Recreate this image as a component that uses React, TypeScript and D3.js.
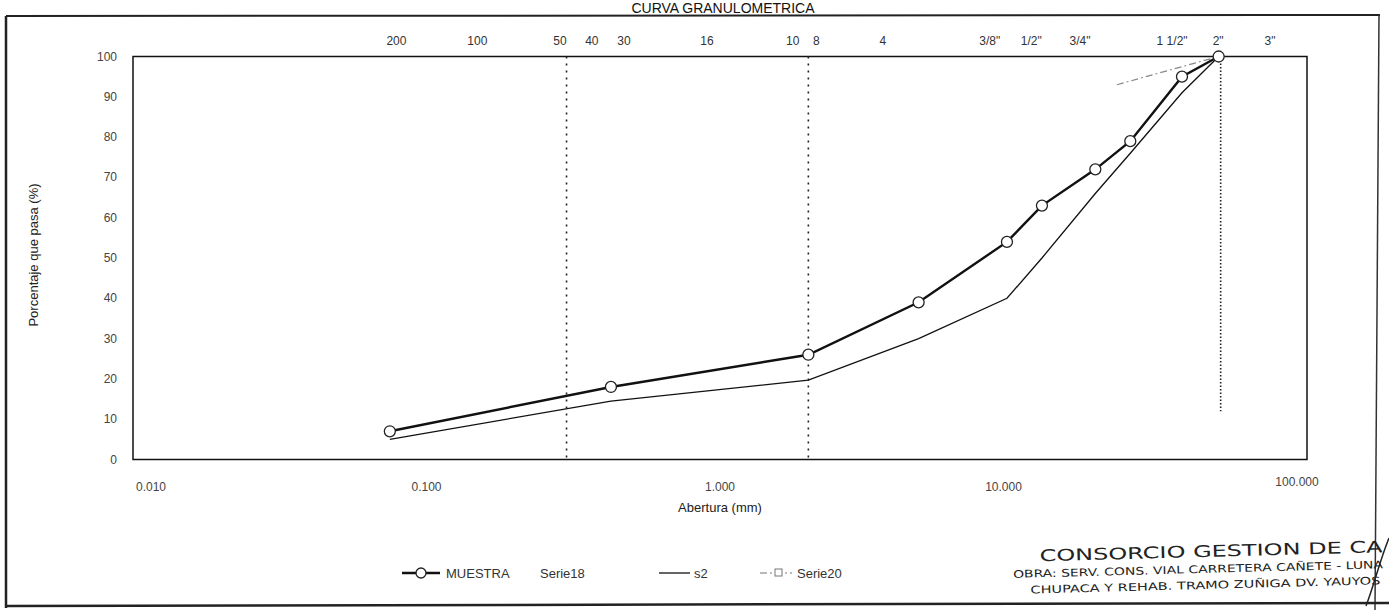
import React from "react";
import * as d3 from "d3";

// ---- data ----
const sievesMm = [0.075, 0.425, 2.0, 4.75, 9.5, 12.5, 19.0, 25.0, 37.5, 50.0];
const muestra = [7, 18, 26, 39, 54, 63, 72, 79, 95, 100];
const s2Values = [5, 14.5, 19.7, 30, 40, 50, 66, 76, 91, 100];
const serie20Mm = [22.5, 50.0];
const serie20Values = [93, 100];

const xTicks = [0.01, 0.1, 1, 10, 100];
const yTicks = [0, 10, 20, 30, 40, 50, 60, 70, 80, 90, 100];

// sieve names shown above the plot and where (mm) they sit in the original
const sieveNames = ["200", "100", "50", "40", "30", "16", "10", "8", "4", "3/8\"", "1/2\"", "3/4\"", "1 1/2\"", "2\"", "3\""];
const sieveNameAt = [0.079, 0.149, 0.285, 0.366, 0.471, 0.903, 1.77, 2.13, 3.59, 8.3, 11.5, 16.85, 34.7, 49.8, 74.8];

// dotted reference sieves: No.50, No.10, 2"
const refSieves = [0.3, 2.0, 50.8];
const refSieveLow = [0, 0, 12];

const W = 1389;
const H = 610;
const M = { left: 133, right: 1307, top: 56.5, bottom: 459.5 };

const FONT = "'Liberation Sans', Arial, sans-serif";

export default function App() {
  const x = d3.scaleLog().domain([0.01, 100]).range([M.left, M.right]);
  const y = d3.scaleLinear().domain([0, 100]).range([M.bottom, M.top]);
  const fmt = d3.format(".3f");

  const pts = sievesMm.map((d, i) => [d, muestra[i]] as [number, number]);
  const pts2 = sievesMm.map((d, i) => [d, s2Values[i]] as [number, number]);
  const pts3 = serie20Mm.map((d, i) => [d, serie20Values[i]] as [number, number]);
  const line = d3
    .line<[number, number]>()
    .x((d) => x(d[0]))
    .y((d) => y(d[1]));

  return (
    <svg
      width={W}
      height={H}
      viewBox={`0 0 ${W} ${H}`}
      style={{ position: "absolute", left: 0, top: 0, background: "#fff" }}
      fontFamily={FONT}
    >
      <rect x={0} y={0} width={W} height={H} fill="#fff" />
      {/* title */}
      <text x={723} y={13} textAnchor="middle" fontSize={14} fill="#111">
        CURVA GRANULOMETRICA
      </text>

      {/* outer frame */}
      <line x1={6} y1={16} x2={1380} y2={15} stroke="#222" strokeWidth={2} />
      <line x1={6} y1={16} x2={6} y2={608} stroke="#222" strokeWidth={2.5} />
      <line x1={1379} y1={15} x2={1375} y2={610} stroke="#333" strokeWidth={1.5} />
      <line x1={6} y1={606} x2={1389} y2={603} stroke="#222" strokeWidth={2.5} />

      {/* plot area */}
      <rect
        x={M.left}
        y={M.top}
        width={M.right - M.left}
        height={M.bottom - M.top}
        fill="none"
        stroke="#111"
        strokeWidth={1.5}
      />

      {/* dotted reference sieve lines */}
      {refSieves.map((s, i) => (
        <line
          key={"r" + i}
          x1={x(s)}
          x2={x(s)}
          y1={y(100)}
          y2={y(refSieveLow[i])}
          stroke="#222"
          strokeWidth={1.6}
          strokeDasharray={i === 2 ? "1.5,2" : "2,5"}
        />
      ))}

      {/* sieve names on top */}
      {sieveNames.map((n, i) => (
        <text key={"s" + i} x={x(sieveNameAt[i])} y={45} textAnchor="middle" fontSize={12} fill="#333">
          {n}
        </text>
      ))}

      {/* y axis ticks */}
      {yTicks.map((t) => (
        <text key={"y" + t} x={117} y={y(t) + 4} textAnchor="end" fontSize={12} fill="#444">
          {t}
        </text>
      ))}
      <text
        transform={`translate(38,255) rotate(-90)`}
        textAnchor="middle"
        fontSize={13}
        fill="#222"
      >
        Porcentaje que pasa (%)
      </text>

      {/* x axis ticks */}
      {xTicks.map((t, i) => (
        <text
          key={"x" + t}
          x={i === 0 ? x(t) + 18 : x(t) - (i >= 3 ? 10 : 0)}
          y={i === 4 ? 486 : 491}
          textAnchor="middle"
          fontSize={12}
          fill="#444"
        >
          {fmt(t)}
        </text>
      ))}
      <text x={720} y={512} textAnchor="middle" fontSize={13} fill="#222">
        Abertura (mm)
      </text>

      {/* Serie20 */}
      <path d={line(pts3) || ""} fill="none" stroke="#888" strokeWidth={1.2} strokeDasharray="7,3,2,3" />

      {/* s2 */}
      <path d={line(pts2) || ""} fill="none" stroke="#111" strokeWidth={1.3} />

      {/* MUESTRA */}
      <path d={line(pts) || ""} fill="none" stroke="#111" strokeWidth={2.4} />
      {pts.map((p, i) => (
        <circle key={"c" + i} cx={x(p[0])} cy={y(p[1])} r={5.5} fill="#fff" stroke="#222" strokeWidth={1.3} />
      ))}

      {/* legend */}
      <g fontSize={13} fill="#333">
        <line x1={402} x2={440} y1={573} y2={573} stroke="#111" strokeWidth={2.4} />
        <circle cx={421} cy={573} r={5} fill="#fff" stroke="#222" strokeWidth={1.3} />
        <text x={446} y={578}>MUESTRA</text>
        <text x={540} y={578}>Serie18</text>
        <line x1={659} x2={690} y1={573} y2={573} stroke="#111" strokeWidth={1.3} />
        <text x={694} y={578}>s2</text>
        <line x1={760} x2={792} y1={573} y2={573} stroke="#777" strokeWidth={1.2} strokeDasharray="7,3,2,3" />
        <rect x={775} y={569} width={7} height={7} fill="#fff" stroke="#777" strokeWidth={1} />
        <text x={797} y={578}>Serie20</text>
      </g>

      {/* stamp */}
      <g transform="rotate(-1.5 1200 570)" fill="#222" fontFamily="'DejaVu Sans', sans-serif">
        <text x={1040} y={557} fontSize={16} textLength={343} lengthAdjust="spacingAndGlyphs">CONSORCIO GESTION DE CA</text>
        <text x={1013} y={573} fontSize={10.5} textLength={370} lengthAdjust="spacingAndGlyphs">OBRA: SERV. CONS. VIAL CARRETERA CAÑETE - LUNA</text>
        <text x={1030} y={589} fontSize={10.5} textLength={350} lengthAdjust="spacingAndGlyphs">CHUPACA Y REHAB. TRAMO ZUÑIGA DV. YAUYOS</text>
      </g>
      <path d="M1389,538 C1380,560 1374,585 1366,606" fill="none" stroke="#222" strokeWidth={1.5} />
    </svg>
  );
}
